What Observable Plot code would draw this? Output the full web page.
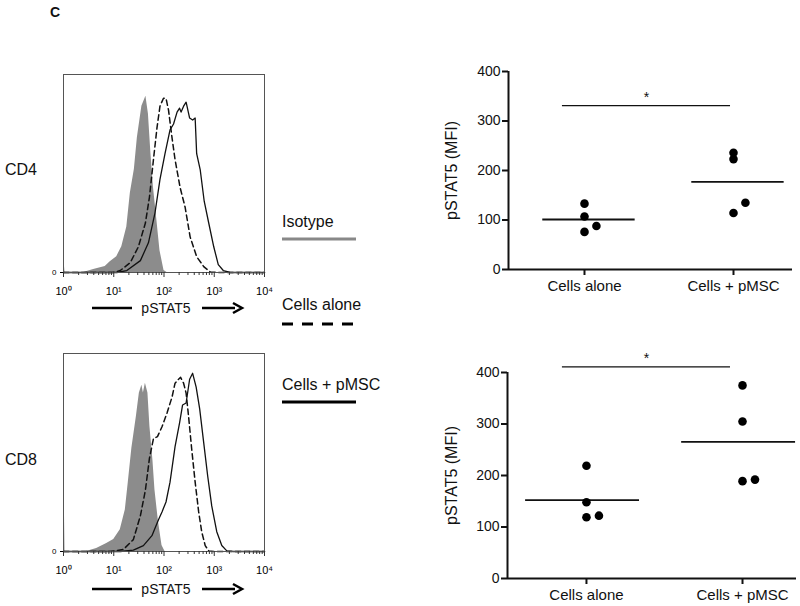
<!DOCTYPE html>
<html><head><meta charset="utf-8">
<script src="https://cdn.jsdelivr.net/npm/d3@7"></script>
<script src="https://cdn.jsdelivr.net/npm/@observablehq/plot@0.6"></script>
<style>
body{margin:0;background:#fff;font-family:"Liberation Sans",Arial,sans-serif;}
#wrap{position:relative;width:800px;height:606px;overflow:hidden;}
.abs{position:absolute;}
.lbl{position:absolute;white-space:nowrap;line-height:1;color:#111;}
</style></head><body>
<div id="wrap"></div>
<script>
// ---- Flow histograms (x = log10 fluorescence, y = % of max) ----
const cd4IsoX   = [0,0.01,0.03,0.4,0.6,0.83,0.93,1.06,1.16,1.26,1.33,1.41,1.47,1.56,1.64,1.69,1.74,1.79,1.86,1.92,2.0,2.06,4];
const cd4IsoY   = [6,6,0,0,1.5,3,5.4,8,13,23,40,52,68,84,89,80,60,43,26,11,1,0,0];
const cd4AloneX = [0,0.99,1.13,1.33,1.49,1.63,1.71,1.79,1.86,1.92,1.99,2.04,2.09,2.16,2.22,2.32,2.42,2.52,2.65,2.79,2.92,3.05,4];
const cd4AloneY = [0,0,1,5,13,25,38,57,73,84,88,88,82,68,57,43,33,18,8,3,0.3,0,0];
const cd4PmscX  = [0,1.06,1.26,1.53,1.69,1.82,1.92,2.02,2.12,2.19,2.26,2.31,2.34,2.39,2.44,2.51,2.57,2.62,2.65,2.72,2.80,2.89,2.99,3.08,3.18,3.32,4];
const cd4PmscY  = [0,0,1,6,15,30,47,60,72,75,81,83,81,84,86,78,77,78,60,52,36,25,13,4,1,0,0];

const cd8IsoX   = [0,0.01,0.03,0.46,0.66,0.86,1.0,1.13,1.23,1.29,1.36,1.45,1.51,1.56,1.59,1.63,1.68,1.72,1.78,1.82,1.89,1.96,2.02,4];
const cd8IsoY   = [36,36,0,0,1.5,4,6,11,21,35,52,68,80,84,80,85,80,63,46,31,15,3,0,0];
const cd8AloneX = [0,0.93,1.19,1.39,1.53,1.63,1.71,1.79,1.87,1.96,2.06,2.16,2.22,2.29,2.33,2.39,2.44,2.49,2.55,2.62,2.69,2.75,2.82,2.89,3.0,4];
const cd8AloneY = [0,0,1,6,18,31,47,57,58,63,70,78,85,87,88,85,80,68,52,35,20,10,3,0.3,0,0];
const cd8PmscX  = [0,1.13,1.39,1.59,1.76,1.89,1.96,2.04,2.12,2.22,2.31,2.37,2.44,2.51,2.57,2.64,2.71,2.79,2.87,2.95,3.05,3.15,3.25,3.38,4];
const cd8PmscY  = [0,0,0.7,3,8,16,20,25,35,53,65,74,75,87,90,83,72,55,38,23,10,3,0.3,0,0];

const decades = [0,1,2,3,4];
const decadeLabels = ["10\u2070","10\u00b9","10\u00b2","10\u00b3","10\u2074"];

// ---- MFI dot plots ----
const groups = ["Cells alone","Cells + pMSC"];
const cd4Alone = [133,107,88,76];
const cd4Pmsc  = [236,223,135,114];
const cd8Alone = [219,148,119,122];
const cd8Pmsc  = [375,305,189,192];
const cd4AloneJit = [0,0,1,0];
const cd4PmscJit  = [0,0,1,0];
const cd8AloneJit = [0,0,0,1];
const cd8PmscJit  = [0,0,0,1];
const sigLevels = [331,411];   // height of significance bar (MFI units)
const yTicks = [0,100,200,300,400];

const wrap = document.getElementById("wrap");
function place(el,left,top){const d=document.createElement("div");d.className="abs";d.style.left=left+"px";d.style.top=top+"px";d.appendChild(el);wrap.appendChild(d);return d;}
function label(text,left,top,size,extra){const d=document.createElement("div");d.className="lbl";d.style.left=left+"px";d.style.top=top+"px";d.style.fontSize=size+"px";if(extra)Object.assign(d.style,extra);d.textContent=text;wrap.appendChild(d);return d;}

const zip = (xs,ys)=>xs.map((x,i)=>({x,y:ys[i]}));
const minor = d3.range(0,4).flatMap(d=>d3.range(2,10).map(k=>d+Math.log10(k)));

function hist(iso,alone,pmsc,marginTop){
  return Plot.plot({
    width:280,height:250,marginLeft:63,marginRight:16,marginTop,marginBottom:250-marginTop-198,
    style:{fontFamily:"Liberation Sans, Arial, sans-serif",background:"transparent",fontSize:"11px"},
    x:{domain:[0,4]},
    y:{domain:[0,100]},
    marks:[
      Plot.areaY(iso,{x:"x",y:"y",fill:"#8c8c8c"}),
      Plot.lineY(alone,{x:"x",y:"y",stroke:"#111",strokeWidth:1.5,strokeDasharray:"5.5,3.5"}),
      Plot.lineY(pmsc,{x:"x",y:"y",stroke:"#111",strokeWidth:1.3}),
      Plot.frame({stroke:"#555",strokeWidth:1}),
      Plot.axisX({ticks:minor,tickSize:3,tickFormat:()=>"",stroke:"#333",label:null}),
      Plot.axisX({ticks:decades,tickSize:5,tickPadding:10,tickFormat:d=>decadeLabels[d],fontSize:11,stroke:"#333",label:null}),
      Plot.axisY({ticks:[0],tickSize:3,tickPadding:4,fontSize:8,label:null})
    ]
  });
}

place(hist(zip(cd4IsoX,cd4IsoY),zip(cd4AloneX,cd4AloneY),zip(cd4PmscX,cd4PmscY),14),0,60);
place(hist(zip(cd8IsoX,cd8IsoY),zip(cd8AloneX,cd8AloneY),zip(cd8PmscX,cd8PmscY),13),0,340);

function dotplot(alone,pmsc,aj,pj,sig,opts){
  const pts=[...alone.map((v,i)=>({x:0+aj[i]*0.08,y:v})),...pmsc.map((v,i)=>({x:1+pj[i]*0.08,y:v}))];
  const means=[{g:0,m:d3.mean(alone)},{g:1,m:d3.mean(pmsc)}];
  return Plot.plot({
    width:380,height:opts.height,marginLeft:opts.ml,marginRight:opts.mr,marginTop:opts.mt,marginBottom:opts.mb,
    style:{fontFamily:"Liberation Sans, Arial, sans-serif",background:"transparent",fontSize:"16px",color:"#111"},
    x:{domain:opts.xd},
    y:{domain:[0,400]},
    marks:[
      Plot.ruleX([opts.xd[0]],{strokeWidth:2,stroke:"#111"}),
      Plot.ruleY([0],{strokeWidth:2,stroke:"#111"}),
      Plot.axisY({ticks:yTicks,tickSize:6,tickPadding:2,strokeWidth:2,fontSize:14,label:null}),
      Plot.axisY({ticks:[],fontSize:16,label:"pSTAT5 (MFI)",labelAnchor:"center",labelOffset:opts.lo,labelArrow:"none"}),
      Plot.axisX({ticks:[0,1],tickSize:6,tickPadding:5,strokeWidth:2,fontSize:15,tickFormat:i=>groups[i],label:null}),
      Plot.ruleY(means,{y:"m",x1:d=>d.g+opts.mlo,x2:d=>d.g+opts.mhi,stroke:"#111",strokeWidth:1.8}),
      Plot.dot(pts,{x:"x",y:"y",r:4.3,fill:"#000",stroke:null}),
      Plot.ruleY([sig],{x1:opts.s1,x2:opts.s2,stroke:"#111",strokeWidth:1.2}),
      Plot.text([sig],{x:(opts.s1+opts.s2)/2,y:d=>d,text:()=>"*",dy:-4,fontSize:14,lineAnchor:"bottom"})
    ]
  });
}

place(dotplot(cd4Alone,cd4Pmsc,cd4AloneJit,cd4PmscJit,sigLevels[0],
  {height:260,ml:88,mr:8,mt:21,mb:41,xd:[-0.51,1.396],lo:63,mlo:-0.28,mhi:0.34,s1:-0.148,s2:0.98}),420,50);
place(dotplot(cd8Alone,cd8Pmsc,cd8AloneJit,cd8PmscJit,sigLevels[1],
  {height:256,ml:87,mr:4,mt:22,mb:28,xd:[-0.506,1.346],lo:62,mlo:-0.39,mhi:0.34,s1:-0.154,s2:0.923}),420,350);

// panel letter and row labels
label("C",50,5,14,{fontWeight:"bold"});
label("CD4",5,162,16);
label("CD8",5,452,16);

// pSTAT5 arrow captions
function arrowCaption(top){
  const svgns="http://www.w3.org/2000/svg";
  const d=document.createElement("div");d.className="abs";d.style.left="90px";d.style.top=(top-10)+"px";
  d.innerHTML=`<svg width="160" height="20" xmlns="${svgns}"><line x1="2" y1="10" x2="42" y2="10" stroke="#000" stroke-width="2.5"/><text x="76" y="15" text-anchor="middle" font-size="14" font-family="Liberation Sans, Arial, sans-serif" fill="#111">pSTAT5</text><line x1="112" y1="10" x2="145" y2="10" stroke="#000" stroke-width="2.5"/><path d="M143,5 L152,10 L143,15" fill="none" stroke="#000" stroke-width="2.5"/></svg>`;
  wrap.appendChild(d);
}
arrowCaption(308);
arrowCaption(589);

// legend
label("Isotype",282,214,16);
label("Cells alone",282,297,16);
label("Cells + pMSC",282,377,16);
const leg=document.createElement("div");leg.className="abs";leg.style.left="280px";leg.style.top="230px";
leg.innerHTML=`<svg width="80" height="180"><line x1="2" y1="9" x2="76" y2="9" stroke="#888" stroke-width="3"/><line x1="2" y1="94" x2="76" y2="94" stroke="#000" stroke-width="3" stroke-dasharray="11 9"/><line x1="2" y1="172" x2="76" y2="172" stroke="#000" stroke-width="3"/></svg>`;
wrap.appendChild(leg);
</script>
</body></html>
